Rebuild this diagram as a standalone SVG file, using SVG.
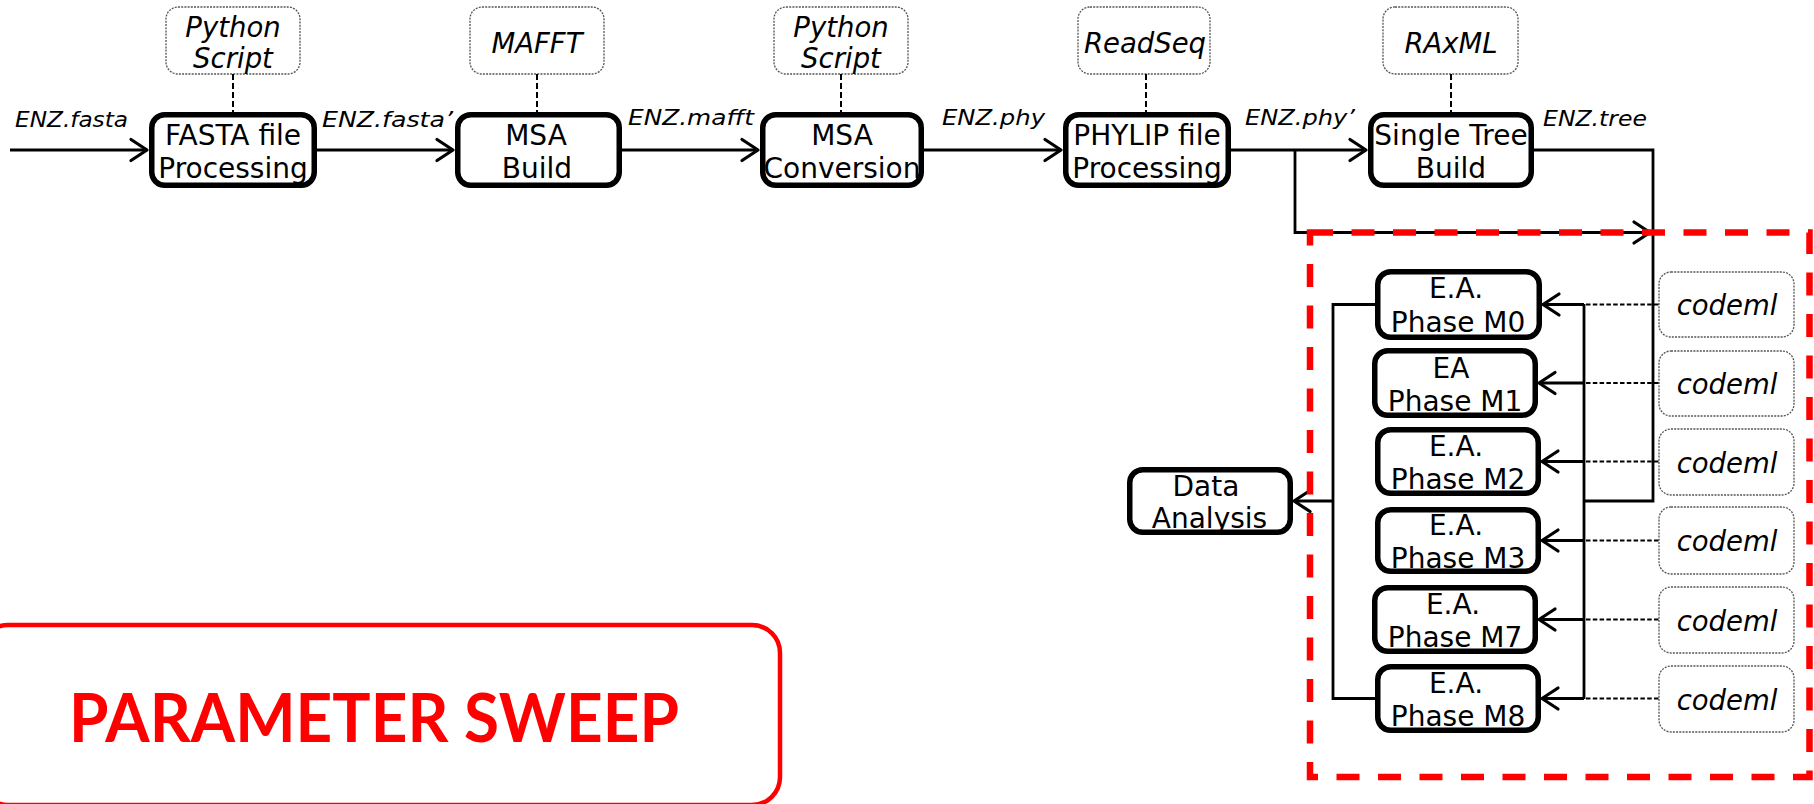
<svg xmlns="http://www.w3.org/2000/svg" width="1814" height="804" viewBox="0 0 1814 804">
<style>
.node rect{fill:#fff;stroke:#000;stroke-width:5.5}
.tool rect{fill:#fff;stroke:#555;stroke-width:1.3;stroke-dasharray:2 1.2}
.t{font-family:"DejaVu Sans","Verdana",sans-serif;font-size:28px;text-anchor:middle;fill:#000}
.ti{font-family:"DejaVu Sans","Verdana",sans-serif;font-style:italic;font-size:27.5px;text-anchor:middle;fill:#000}
.lbl{font-family:"DejaVu Sans","Verdana",sans-serif;font-style:italic;font-size:21.5px;fill:#000}
.conn path{fill:none;stroke:#000;stroke-width:2.8}
.tl{fill:none;stroke:#000;stroke-width:2;stroke-dasharray:6 3}
.cl{fill:none;stroke:#000;stroke-width:1.8;stroke-dasharray:4.5 2.3}
</style>
<defs>
<marker id="arr" markerUnits="userSpaceOnUse" markerWidth="24" markerHeight="30" viewBox="-20 -15 24 30" refX="0" refY="0" orient="auto">
<path d="M-16,-10.5 L0,0 L-16,10.5" fill="none" stroke="#000" stroke-width="3.2" stroke-linejoin="round" stroke-linecap="round"/>
</marker>
</defs>
<rect width="1814" height="804" fill="#fff"/>

<!-- tool boxes -->
<g id="tool-python1" class="tool"><rect x="166" y="7" width="134" height="67" rx="12"/><text class="ti" x="233" y="37">Python</text><text class="ti" x="233" y="68">Script</text></g>
<g id="tool-mafft" class="tool"><rect x="470" y="7" width="134" height="67" rx="12"/><text class="ti" x="537" y="53">MAFFT</text></g>
<g id="tool-python2" class="tool"><rect x="774" y="7" width="134" height="67" rx="12"/><text class="ti" x="841" y="37">Python</text><text class="ti" x="841" y="68">Script</text></g>
<g id="tool-readseq" class="tool"><rect x="1078" y="7" width="132" height="67" rx="12"/><text class="ti" x="1145" y="53">ReadSeq</text></g>
<g id="tool-raxml" class="tool"><rect x="1383" y="7" width="135" height="67" rx="12"/><text class="ti" x="1451" y="53">RAxML</text></g>

<g id="tool-codeml0" class="tool"><rect x="1659" y="272" width="135" height="65" rx="12"/><text class="ti" x="1727" y="315">codeml</text></g>
<g id="tool-codeml1" class="tool"><rect x="1659" y="351" width="135" height="65" rx="12"/><text class="ti" x="1727" y="394">codeml</text></g>
<g id="tool-codeml2" class="tool"><rect x="1659" y="429" width="135" height="66" rx="12"/><text class="ti" x="1727" y="472.5">codeml</text></g>
<g id="tool-codeml3" class="tool"><rect x="1659" y="507" width="135" height="67" rx="12"/><text class="ti" x="1727" y="551">codeml</text></g>
<g id="tool-codeml7" class="tool"><rect x="1659" y="587" width="135" height="66" rx="12"/><text class="ti" x="1727" y="630.5">codeml</text></g>
<g id="tool-codeml8" class="tool"><rect x="1659" y="666" width="135" height="66" rx="12"/><text class="ti" x="1727" y="709.5">codeml</text></g>

<!-- connectors -->
<g id="connectors">
<g class="conn">
<path d="M10,150 H147" marker-end="url(#arr)"/>
<path d="M317,150 H453" marker-end="url(#arr)"/>
<path d="M622,150 H758" marker-end="url(#arr)"/>
<path d="M924,150 H1061" marker-end="url(#arr)"/>
<path d="M1231,150 H1366" marker-end="url(#arr)"/>
<path d="M1295,150 V232.5 H1650" marker-end="url(#arr)"/>
<path d="M1534,150 H1653 V501 H1584"/>
<path d="M1584,304 V699"/>
<path d="M1584,304.5 H1543" marker-end="url(#arr)"/>
<path d="M1584,383 H1539" marker-end="url(#arr)"/>
<path d="M1584,461.5 H1542" marker-end="url(#arr)"/>
<path d="M1584,540.5 H1542" marker-end="url(#arr)"/>
<path d="M1584,619.5 H1539" marker-end="url(#arr)"/>
<path d="M1584,698.5 H1542" marker-end="url(#arr)"/>
<path d="M1375,304.5 H1333 V698.5 H1375"/>
<path d="M1333,501 H1294" marker-end="url(#arr)"/>
</g>
<path class="tl" d="M233,74 V112"/>
<path class="tl" d="M537,74 V112"/>
<path class="tl" d="M841,74 V112"/>
<path class="tl" d="M1146,74 V112"/>
<path class="tl" d="M1451,74 V112"/>
<path class="cl" d="M1586,304.5 H1659"/>
<path class="cl" d="M1586,383 H1659"/>
<path class="cl" d="M1586,461.5 H1659"/>
<path class="cl" d="M1586,540.5 H1659"/>
<path class="cl" d="M1586,619.5 H1659"/>
<path class="cl" d="M1586,698.5 H1659"/>
<text class="lbl" x="15" y="127" textLength="113" lengthAdjust="spacingAndGlyphs">ENZ.fasta</text>
<text class="lbl" x="322" y="127" textLength="131" lengthAdjust="spacingAndGlyphs">ENZ.fasta’</text>
<text class="lbl" x="628" y="125" textLength="126" lengthAdjust="spacingAndGlyphs">ENZ.mafft</text>
<text class="lbl" x="942" y="125" textLength="103" lengthAdjust="spacingAndGlyphs">ENZ.phy</text>
<text class="lbl" x="1245" y="125" textLength="110" lengthAdjust="spacingAndGlyphs">ENZ.phy’</text>
<text class="lbl" x="1543" y="126" textLength="104" lengthAdjust="spacingAndGlyphs">ENZ.tree</text>
</g>

<!-- main nodes -->
<g id="fasta" class="node"><rect x="151.75" y="114.75" width="162.5" height="70.5" rx="13"/><text class="t" x="233" y="145">FASTA file</text><text class="t" x="233" y="178">Processing</text></g>
<g id="msa-build" class="node"><rect x="457.75" y="114.75" width="161.5" height="70.5" rx="13"/><text class="t" x="536" y="145">MSA</text><text class="t" x="537" y="178">Build</text></g>
<g id="msa-conv" class="node"><rect x="762.75" y="114.75" width="158.5" height="70.5" rx="13"/><text class="t" x="842" y="145">MSA</text><text class="t" x="842" y="178">Conversion</text></g>
<g id="phylip" class="node"><rect x="1065.75" y="114.75" width="162.5" height="70.5" rx="13"/><text class="t" x="1147" y="145">PHYLIP file</text><text class="t" x="1147" y="178">Processing</text></g>
<g id="tree" class="node"><rect x="1370.75" y="114.75" width="160.5" height="70.5" rx="13"/><text class="t" x="1451" y="145">Single Tree</text><text class="t" x="1451" y="178">Build</text></g>

<g id="ea-m0" class="node"><rect x="1377.75" y="271.75" width="161.5" height="65.5" rx="13"/><text class="t" x="1456" y="298">E.A.</text><text class="t" x="1458" y="332">Phase M0</text></g>
<g id="ea-m1" class="node"><rect x="1374.75" y="350.75" width="160.5" height="64.5" rx="13"/><text class="t" x="1451" y="377.5">EA</text><text class="t" x="1455" y="410.5">Phase M1</text></g>
<g id="ea-m2" class="node"><rect x="1377.75" y="429.75" width="160.5" height="63.5" rx="13"/><text class="t" x="1456" y="455.5">E.A.</text><text class="t" x="1458" y="489">Phase M2</text></g>
<g id="ea-m3" class="node"><rect x="1377.75" y="509.75" width="160.5" height="61.5" rx="13"/><text class="t" x="1456" y="535">E.A.</text><text class="t" x="1458" y="568">Phase M3</text></g>
<g id="ea-m7" class="node"><rect x="1374.75" y="587.75" width="160.5" height="63.5" rx="13"/><text class="t" x="1453" y="614">E.A.</text><text class="t" x="1455" y="647">Phase M7</text></g>
<g id="ea-m8" class="node"><rect x="1377.75" y="666.75" width="160.5" height="63.5" rx="13"/><text class="t" x="1456" y="693">E.A.</text><text class="t" x="1458" y="726">Phase M8</text></g>

<g id="data-analysis" class="node"><rect x="1129.75" y="469.75" width="160.5" height="62.5" rx="13"/><text class="t" x="1206" y="496">Data</text><text class="t" x="1209.5" y="528">Analysis</text></g>

<!-- parameter sweep region -->
<g id="sweep-region">
<rect x="1310" y="232.5" width="499.5" height="544.5" fill="none" stroke="#ff0000" stroke-width="6.5" stroke-dasharray="23 18.5"/>
</g>
<g id="parameter-sweep">
<rect x="-20" y="625" width="800" height="180" rx="28" fill="none" stroke="#ff0000" stroke-width="4.5"/>
<text x="69" y="742" font-family="Lato,'Open Sans',sans-serif" font-weight="700" font-size="66" fill="#ff0000" textLength="610" lengthAdjust="spacingAndGlyphs">PARAMETER SWEEP</text>
</g>
</svg>
